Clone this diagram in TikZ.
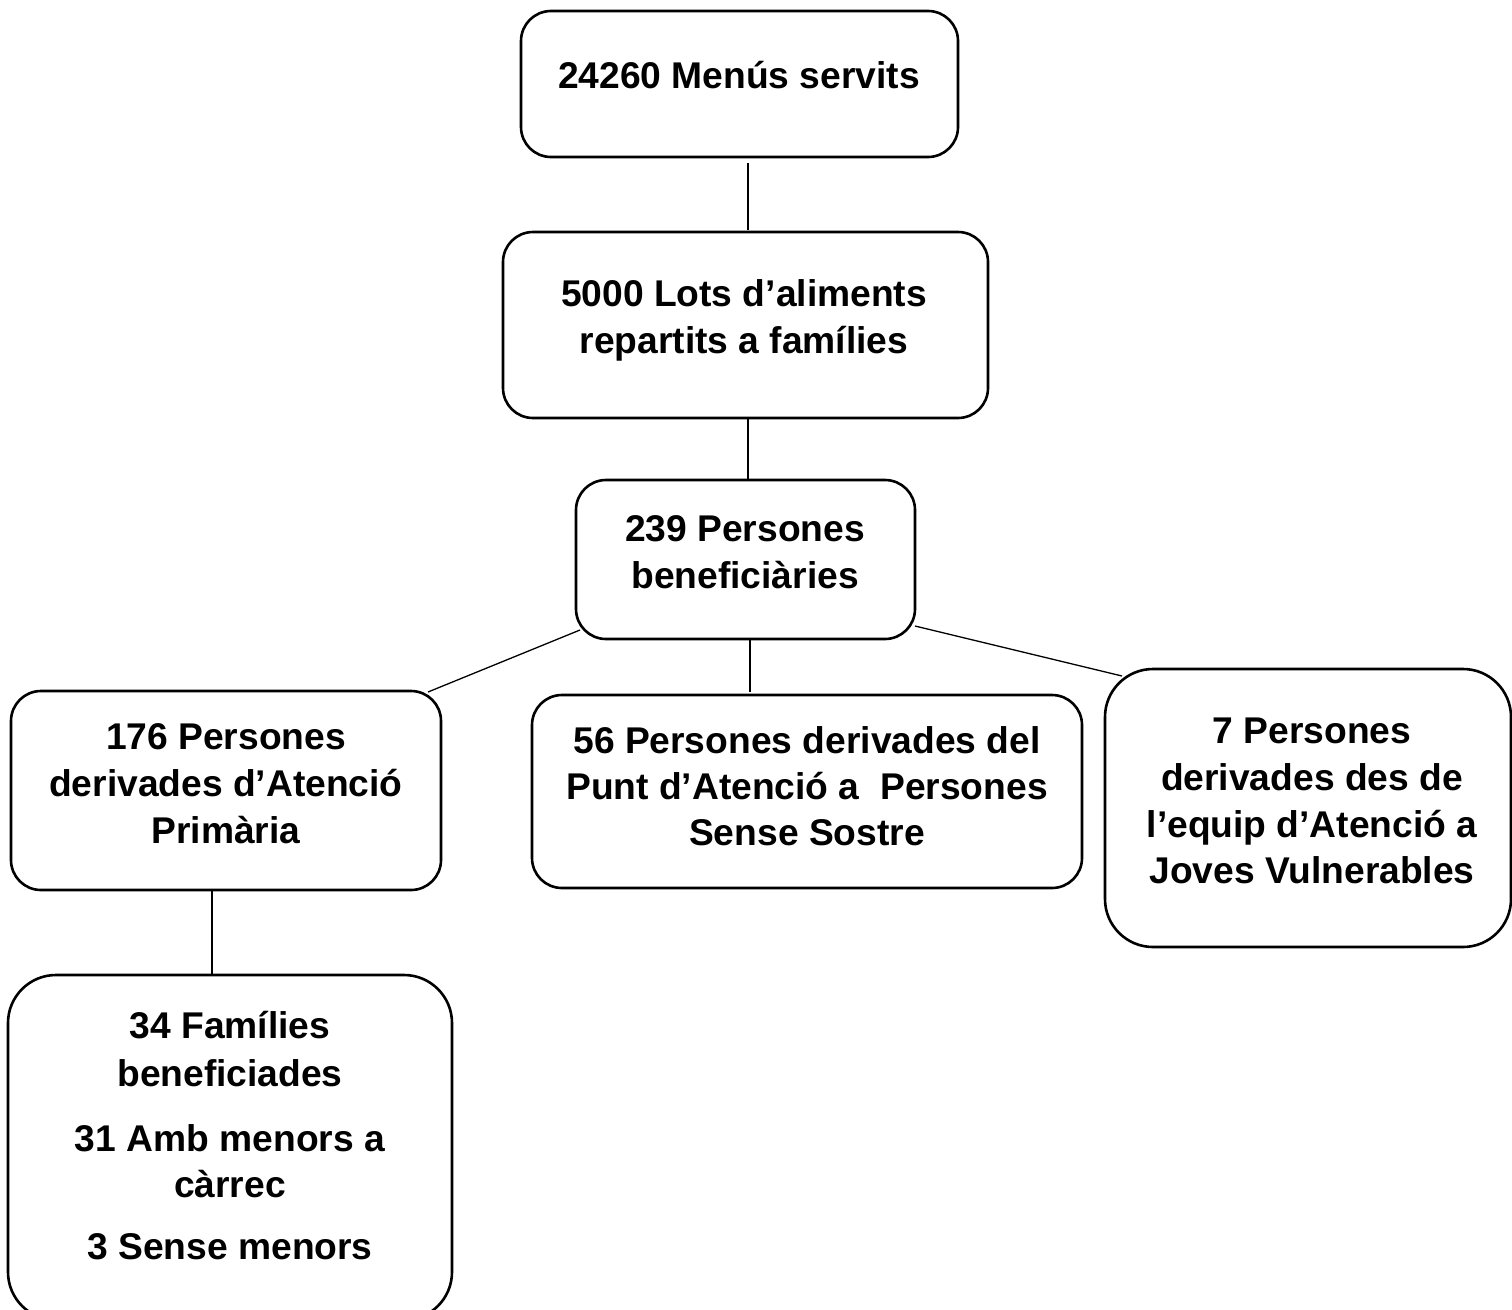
\documentclass[tikz,border=0pt]{standalone}
\usepackage{fontspec}
\setmainfont{Liberation Sans}
\usetikzlibrary{calc}
\tikzset{
  boxbase/.style={draw=black, line width=2.6pt, inner sep=0pt, outer sep=0pt, rectangle},
  smallbox/.style={boxbase, rounded corners=30pt},
  bigbox/.style={boxbase, rounded corners=48pt},
  lbl/.style={anchor=base, inner sep=0pt, font=\fontsize{37.2}{47}\selectfont\bfseries},
  link/.style={draw=black, line width=1.3pt}
}
\begin{document}
\begin{tikzpicture}[x=1pt,y=-1pt]
\useasboundingbox (0,0) rectangle (1512,1309);
% boxes
\node[smallbox, minimum width=437pt, minimum height=146pt] (b1) at (739.5,84) {};
\node[smallbox, minimum width=485pt, minimum height=186pt] (b2) at (745.5,325) {};
\node[smallbox, minimum width=339pt, minimum height=159pt] (b3) at (745.5,559.5) {};
\node[smallbox, minimum width=430pt, minimum height=199pt] (b4) at (226,790.5) {};
\node[smallbox, minimum width=550pt, minimum height=193pt] (b5) at (807,791.5) {};
\node[bigbox, minimum width=406pt, minimum height=278pt] (b6) at (1308,808) {};
\node[bigbox, minimum width=444pt, minimum height=345pt] (b7) at (230,1147.5) {};
% texts
\node[lbl] (t1) at (739,88) {24260 Menús servits};
\node[lbl] (t2a) at (744,306) {5000 Lots d’aliments};
\node[lbl] (t2b) at (744,353) {repartits a famílies};
\node[lbl] (t3a) at (745,541) {239 Persones};
\node[lbl] (t3b) at (745,588) {beneficiàries};
\node[lbl] (t4a) at (226,749) {176 Persones};
\node[lbl] (t4b) at (226,796) {derivades d’Atenció};
\node[lbl] (t4c) at (226,843) {Primària};
\node[lbl] (t5a) at (807,753) {56 Persones derivades del};
\node[lbl] (t5b) at (807,799) {Punt d’Atenció a\ \ Persones};
\node[lbl] (t5c) at (807,845) {Sense Sostre};
\node[lbl] (t6a) at (1312,743) {7 Persones};
\node[lbl] (t6b) at (1312,790) {derivades des de};
\node[lbl] (t6c) at (1312,837) {l’equip d’Atenció a};
\node[lbl] (t6d) at (1312,883) {Joves Vulnerables};
\node[lbl] (t7a) at (230,1038) {34 Famílies};
\node[lbl] (t7b) at (230,1086) {beneficiades};
\node[lbl] (t7c) at (230,1151) {31 Amb menors a};
\node[lbl] (t7d) at (230,1197) {càrrec};
\node[lbl] (t7e) at (230,1259) {3 Sense menors};
% connectors
\draw[link] ($(b1.south)+(8.5,6)$) -- ($(b2.north)+(2.5,-2)$);
\draw[link] ($(b2.south)+(2.5,0)$) -- ($(b3.north)+(2.5,0)$);
\draw[link] ($(b3.south west)+(4,-9)$) -- ($(b4.north east)+(-13,1)$);
\draw[link] ($(b3.south)+(4.5,1)$) -- ($(b5.north)+(-57,-3)$);
\draw[link] ($(b3.south east)+(0,-13)$) -- ($(b6.north west)+(17,7)$);
\draw[link] ($(b4.south)+(-14,0)$) -- ($(b7.north)+(-18,0)$);
\end{tikzpicture}
\end{document}
